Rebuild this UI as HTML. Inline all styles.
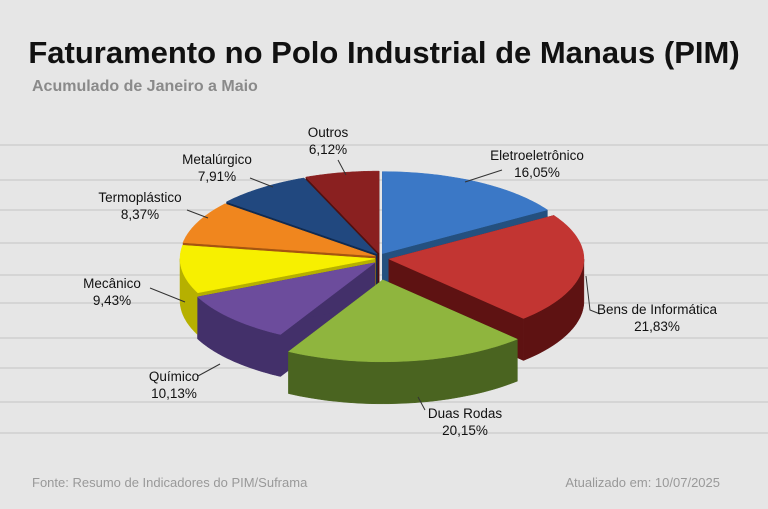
<!DOCTYPE html>
<html><head><meta charset="utf-8"><style>
html,body{margin:0;padding:0;width:768px;height:509px;overflow:hidden;background:#e6e6e6;font-family:"Liberation Sans",sans-serif}
</style></head><body>
<svg id="c" width="768" height="509" viewBox="0 0 768 509" xmlns="http://www.w3.org/2000/svg">
<rect width="768" height="509" fill="#e6e6e6"/>
<g id="grid" stroke="#cfcfcf" stroke-width="1.5"></g>
<text x="384" y="63" text-anchor="middle" font-size="31" font-weight="bold" fill="#111">Faturamento no Polo Industrial de Manaus (PIM)</text>
<text x="32" y="91" font-size="16" font-weight="bold" fill="#8a8a8a">Acumulado de Janeiro a Maio</text>
<g id="pie"></g>
<g id="labels" font-size="13.5" fill="#111" text-anchor="middle"></g>
<text x="32" y="487" font-size="13" fill="#999">Fonte: Resumo de Indicadores do PIM/Suframa</text>
<text x="720" y="487" text-anchor="end" font-size="13" fill="#999">Atualizado em: 10/07/2025</text>
</svg>
<script>
const categories = ["Eletroeletrônico","Bens de Informática","Duas Rodas","Químico","Mecânico","Termoplástico","Metalúrgico","Outros"];
const values = [16.05,21.83,20.15,10.13,9.43,8.37,7.91,6.12];
const valueLabels = ["16,05%","21,83%","20,15%","10,13%","9,43%","8,37%","7,91%","6,12%"];
const topColors = ["#3b78c6","#c23532","#8fb53e","#6c4c9c","#f7f000","#f0861e","#21487f","#8a2020"];
const sideColors = ["#24507f","#5e1212","#4a6420","#43306a","#b6b000","#a55510","#102a50","#501010"];
const explode = [5,9,22,7,5,5,5,5];
const labelPos = [[537,160],[657,314],[465,418],[174,381],[112,288],[140,202],[217,164],[328,137]];
const leaders = [[[502,170],[465,182]],[[600,314],[590,310],[586,276]],[[425,410],[418,397]],[[198,376],[220,364]],[[150,288],[185,302]],[[187,210],[208,218]],[[250,178],[273,187]],[[338,160],[346,175]]];
const NS="http://www.w3.org/2000/svg";
const cx=380, cy=258, rx=195, ry=82, depth=42;
const grid=document.getElementById('grid');
[145,180,210,243,275,303,338,368,402,433].forEach(y=>{const l=document.createElementNS(NS,'line');l.setAttribute('x1',0);l.setAttribute('x2',768);l.setAttribute('y1',y);l.setAttribute('y2',y);


grid.appendChild(l);});
const total=values.reduce((a,b)=>a+b,0);
function pt(c,a,dz){return [c[0]+rx*Math.sin(a), c[1]-ry*Math.cos(a)+(dz||0)];}
const slices=[];let acc=0;
values.forEach((v,i)=>{const a0=acc/total*2*Math.PI;acc+=v;const a1=acc/total*2*Math.PI;const m=(a0+a1)/2;
const c=[cx+explode[i]*Math.sin(m), cy-explode[i]*Math.cos(m)];slices.push({i,a0,a1,m,c});});
const pie=document.getElementById('pie');
function add(d,fill,name){const p=document.createElementNS(NS,'path');p.setAttribute('d',d);p.setAttribute('fill',fill);p.setAttribute('stroke',fill);p.setAttribute('stroke-width','0.5');


pie.appendChild(p);}
function arcPath(c,a0,a1,dz,n){let s='';for(let k=0;k<=n;k++){const a=a0+(a1-a0)*k/n;const p=pt(c,a,dz);s+=(k?'L':'')+p[0].toFixed(1)+','+p[1].toFixed(1);}return s;}
const order=[...slices].sort((a,b)=>(-Math.cos(a.m))-(-Math.cos(b.m)));
order.forEach(s=>{[s.a0,s.a1].forEach(a=>{const p=pt(s.c,a);const d=`M${s.c[0]},${s.c[1]}L${p[0]},${p[1]}L${p[0]},${p[1]+depth}L${s.c[0]},${s.c[1]+depth}Z`;add(d,sideColors[s.i],'slice-side-'+s.i);});});
order.forEach(s=>{const lo=Math.max(s.a0,Math.PI/2),hi=Math.min(s.a1,1.5*Math.PI);if(hi>lo){
const top=arcPath(s.c,lo,hi,0,40);const bot=arcPath(s.c,hi,lo,depth,40);add('M'+top+'L'+bot+'Z',sideColors[s.i],'slice-wall-'+s.i);}});
slices.forEach(s=>{add(`M${s.c[0]},${s.c[1]}L`+arcPath(s.c,s.a0,s.a1,0,60)+'Z',topColors[s.i],'slice-'+categories[s.i].toLowerCase().normalize('NFD').replace(/[^a-z ]/g,'').replace(/ /g,'-'));});
const lab=document.getElementById('labels');
slices.forEach(s=>{const i=s.i;const L=leaders[i];const pl=document.createElementNS(NS,'polyline');pl.setAttribute('points',L.map(p=>p.join(',')).join(' '));pl.setAttribute('fill','none');pl.setAttribute('stroke','#333');pl.setAttribute('stroke-width','1');


lab.appendChild(pl);
const t=document.createElementNS(NS,'text');t.setAttribute('x',labelPos[i][0]);t.setAttribute('y',labelPos[i][1]);


const t1=document.createElementNS(NS,'tspan');t1.setAttribute('x',labelPos[i][0]);t1.textContent=categories[i];
const t2=document.createElementNS(NS,'tspan');t2.setAttribute('x',labelPos[i][0]);t2.setAttribute('dy','17');t2.textContent=valueLabels[i];
t.appendChild(t1);t.appendChild(t2);lab.appendChild(t);});
</script>
</body></html>
